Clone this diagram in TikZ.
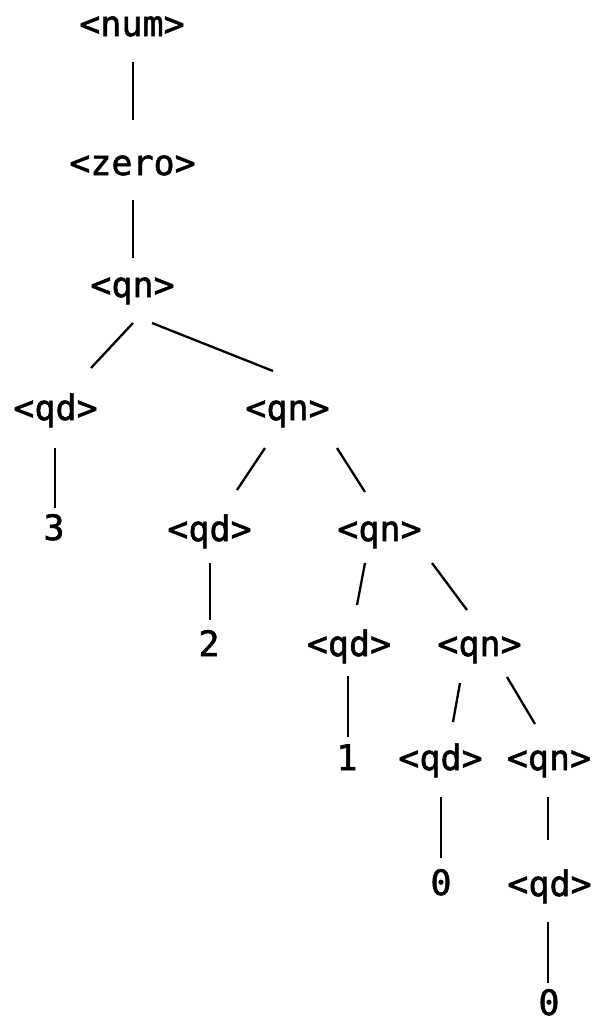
\documentclass[tikz,border=0pt]{standalone}
\usepackage{fontspec}
\newfontfamily\treefont[FakeBold=1.6]{DejaVu Sans Mono}
\begin{document}
\begin{tikzpicture}[x=1pt,y=-1pt,
  sym/.style={anchor=base,inner sep=0pt,font=\treefont\fontsize{35}{42}\selectfont},
  branch/.style={line width=2.3pt}]
\useasboundingbox (0,0) rectangle (598,1021);
% derivation tree nodes (placed by baseline)
\node[sym] (num)  at (132,36)    {<num>};
\node[sym] (zero) at (132.5,175) {<zero>};
\node[sym] (qnA)  at (132.5,297) {<qn>};
\node[sym] (qdA)  at (55.5,420)  {<qd>};
\node[sym] (qnB)  at (287.5,420) {<qn>};
\node[sym] (dA)   at (54,540)    {3};
\node[sym] (qdB)  at (209.5,541) {<qd>};
\node[sym] (qnC)  at (379.5,541) {<qn>};
\node[sym] (dB)   at (209,656)   {2};
\node[sym] (qdC)  at (349,656)   {<qd>};
\node[sym] (qnD)  at (479.5,656) {<qn>};
\node[sym] (dC)   at (347,770)   {1};
\node[sym] (qdD)  at (440.5,770) {<qd>};
\node[sym] (qnE)  at (549,770)   {<qn>};
\node[sym] (dD)   at (441,895)   {0};
\node[sym] (qdE)  at (549.5,896) {<qd>};
\node[sym] (dE)   at (549,1015)  {0};
% branches
\draw[branch] ([shift={(1,26)}]num.base)    -- ([shift={(0.5,-55)}]zero.base);
\draw[branch] ([shift={(0.5,25)}]zero.base) -- ([shift={(0.5,-39)}]qnA.base);
\draw[branch] ([shift={(0.5,26)}]qnA.base)  -- ([shift={(35.5,-52)}]qdA.base);
\draw[branch] ([shift={(19.5,26)}]qnA.base) -- ([shift={(-14.5,-49)}]qnB.base);
\draw[branch] ([shift={(-0.5,28)}]qdA.base) -- ([shift={(1,-32)}]dA.base);
\draw[branch] ([shift={(-22.5,28)}]qnB.base) -- ([shift={(27.5,-51)}]qdB.base);
\draw[branch] ([shift={(49.5,28)}]qnB.base) -- ([shift={(-14.5,-49)}]qnC.base);
\draw[branch] ([shift={(0.5,22)}]qdB.base)  -- ([shift={(1,-36)}]dB.base);
\draw[branch] ([shift={(-14.5,22)}]qnC.base) -- ([shift={(8,-51)}]qdC.base);
\draw[branch] ([shift={(52.5,22)}]qnC.base) -- ([shift={(-12.5,-46)}]qnD.base);
\draw[branch] ([shift={(-1,20)}]qdC.base)   -- ([shift={(1,-33)}]dC.base);
\draw[branch] ([shift={(-19.5,27)}]qnD.base) -- ([shift={(12.5,-48)}]qdD.base);
\draw[branch] ([shift={(27.5,21)}]qnD.base) -- ([shift={(-14,-46)}]qnE.base);
\draw[branch] ([shift={(0.5,27)}]qdD.base)  -- ([shift={(0,-37)}]dD.base);
\draw[branch] ([shift={(-1,27)}]qnE.base)   -- ([shift={(-1.5,-56)}]qdE.base);
\draw[branch] ([shift={(-1.5,26)}]qdE.base) -- ([shift={(-1,-32)}]dE.base);
\end{tikzpicture}
\end{document}
